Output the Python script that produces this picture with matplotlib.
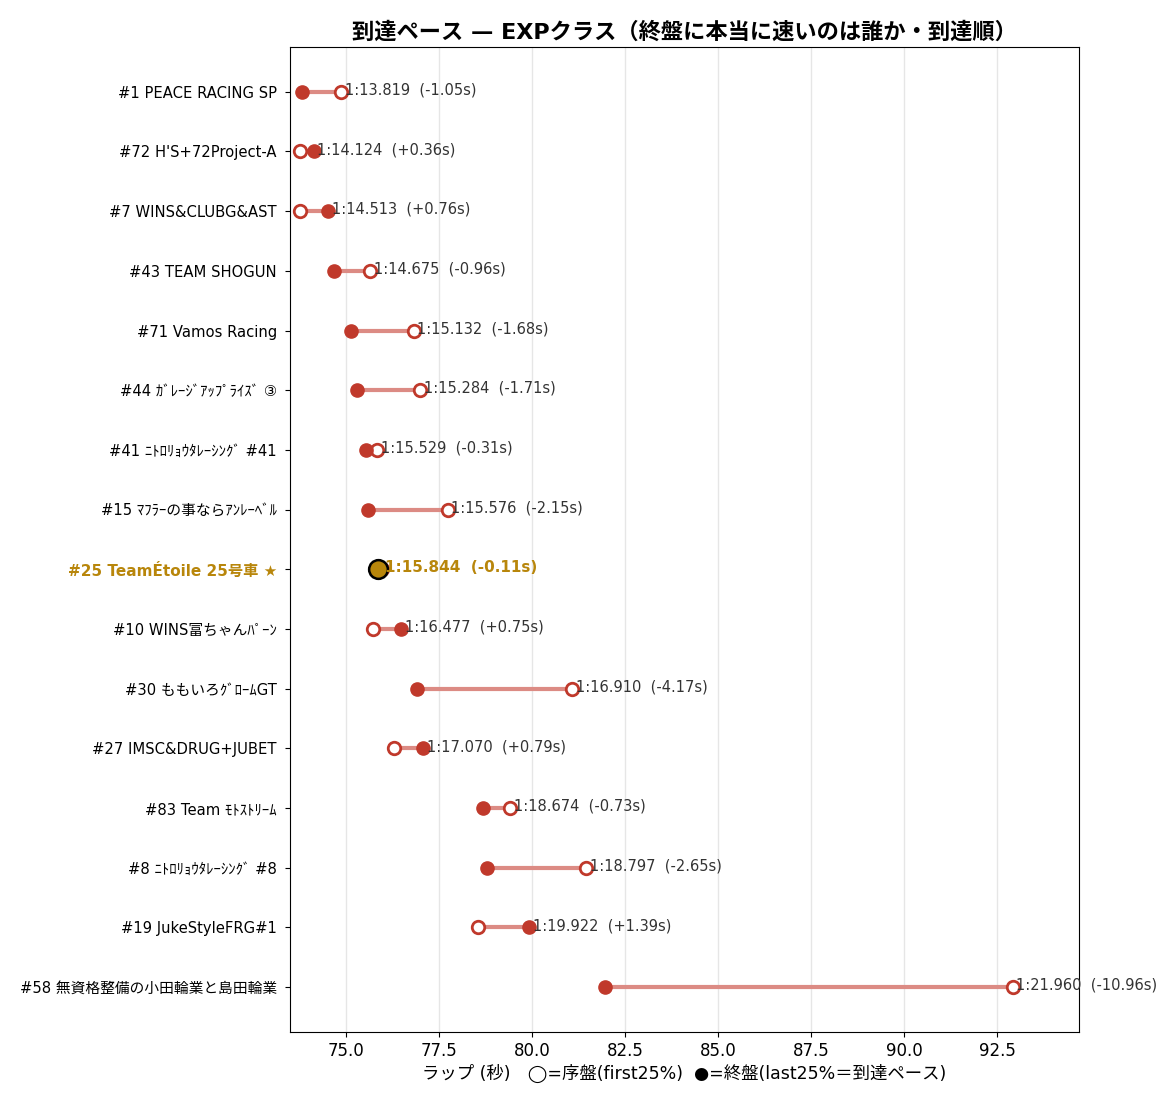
import numpy as np
import matplotlib
matplotlib.use("Agg")
import matplotlib.pyplot as plt

plt.rcParams['font.family'] = ['DejaVu Sans', 'Noto Sans CJK JP']

# チーム (到達順)
teams = [
    "#1 PEACE RACING SP",
    "#72 H'S+72Project-A",
    "#7 WINS&CLUBG&AST",
    "#43 TEAM SHOGUN",
    "#71 Vamos Racing",
    "#44 ｶﾞﾚｰｼﾞｱｯﾌﾟﾗｲｽﾞ ③",
    "#41 ﾆﾄﾛﾘｮｳﾀﾚｰｼﾝｸﾞ #41",
    "#15 ﾏﾌﾗｰの事ならｱﾝﾚｰﾍﾞﾙ",
    "#25 TeamÉtoile 25号車 ★",
    "#10 WINS富ちゃんﾊﾟｰﾝ",
    "#30 ももいろｸﾞﾛｰﾑGT",
    "#27 IMSC&DRUG+JUBET",
    "#83 Team ﾓﾄｽﾄﾘｰﾑ",
    "#8 ﾆﾄﾛﾘｮｳﾀﾚｰｼﾝｸﾞ #8",
    "#19 JukeStyleFRG#1",
    "#58 無資格整備の小田輪業と島田輪業",
]
# 終盤 (last25%) ラップ秒
last25 = [73.819, 74.124, 74.513, 74.675, 75.132, 75.284, 75.529, 75.576,
          75.844, 76.477, 76.910, 77.070, 78.674, 78.797, 79.922, 81.960]
# 序盤 (first25%) ラップ秒
first25 = [74.869, 73.764, 73.753, 75.635, 76.812, 76.994, 75.839, 77.726,
           75.954, 75.727, 81.080, 76.280, 79.404, 81.447, 78.532, 92.920]
highlight = "#25 TeamÉtoile 25号車 ★"

RED = "#c0392b"
LINE = "#dc8b84"
GOLD = "#b8860b"

fig = plt.figure(figsize=(11.7, 11.1), dpi=100)
ax = fig.add_axes([0.248, 0.0703, 0.674, 0.8874])

y = np.arange(len(teams))
for i, t in enumerate(teams):
    f, l = first25[i], last25[i]
    hl = (t == highlight)
    ax.plot([f, l], [i, i], color=LINE, lw=3, zorder=2, solid_capstyle='butt')
    ax.plot(f, i, 'o', ms=9, mfc='white', mec=RED, mew=2, zorder=3)
    if hl:
        ax.plot(l, i, 'o', ms=13.5, mfc=GOLD, mec='black', mew=1.8, zorder=4)
    else:
        ax.plot(l, i, 'o', ms=9.5, mfc=RED, mec=RED, zorder=4)
    m = int(l // 60)
    s = l - 60 * m
    d = l - f
    label = f"{m}:{s:06.3f}  ({d:+.2f}s)"
    ax.text(max(f, l) + 0.1, i - 0.03, label, va='center', ha='left',
            fontsize=10.5 if not hl else 11,
            color=GOLD if hl else '#333333',
            fontweight='bold' if hl else 'normal', clip_on=False, zorder=5)

ax.set_yticks(y)
ax.set_yticklabels(teams, fontsize=10.6)
ax.tick_params(axis='y', pad=6)
for lab in ax.get_yticklabels():
    if lab.get_text() == highlight:
        lab.set_color(GOLD)
        lab.set_fontweight('bold')
        lab.set_fontsize(11)
ax.invert_yaxis()
ax.set_xlim(73.49, 94.70)
ax.set_xticks(np.arange(75, 93, 2.5))
ax.tick_params(axis='x', labelsize=12)
ax.grid(axis='x', color='#e6e6e6', lw=1)
ax.set_axisbelow(True)
ax.set_xlabel("ラップ (秒)　◯=序盤(first25%)  ●=終盤(last25%＝到達ペース)",
              fontsize=12.5, labelpad=3)
ax.set_title("到達ペース — EXPクラス（終盤に本当に速いのは誰か・到達順）",
             fontsize=16, fontweight='bold', pad=6)

fig.savefig("out.png", dpi=100)
